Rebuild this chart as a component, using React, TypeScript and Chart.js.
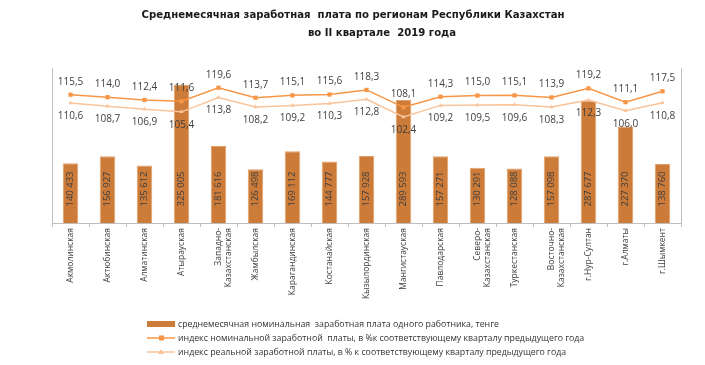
import React, { useEffect, useRef } from "react";
import { Chart, registerables } from "chart.js";

Chart.register(...registerables);

const categories: (string | string[])[] = [
  "Акмолинская",
  "Актюбинская",
  "Алматинская",
  "Атырауская",
  ["Западно-", "Казахстанская"],
  "Жамбылская",
  "Карагандинская",
  "Костанайская",
  "Кызылординская",
  "Мангистауская",
  "Павлодарская",
  ["Северо-", "Казахстанская"],
  "Туркестанская",
  ["Восточно-", "Казахстанская"],
  "г.Нур-Султан",
  "г.Алматы",
  "г.Шымкент",
];

const wages = [140433, 156927, 135612, 325005, 181616, 126498, 169112, 144777, 157928, 289593, 157271, 130291, 128088, 157098, 287677, 227370, 138760];
const nominalIndex = [115.5, 114.0, 112.4, 111.6, 119.6, 113.7, 115.1, 115.6, 118.3, 108.1, 114.3, 115.0, 115.1, 113.9, 119.2, 111.1, 117.5];
const realIndex = [110.6, 108.7, 106.9, 105.4, 113.8, 108.2, 109.2, 110.3, 112.8, 102.4, 109.2, 109.5, 109.6, 108.3, 112.3, 106.0, 110.8];

const titleLines = [
  "Среднемесячная заработная  плата по регионам Республики Казахстан",
  "во II квартале  2019 года",
];
const legendLabels = [
  "среднемесячная номинальная  заработная плата одного работника, тенге",
  "индекс номинальной заработной  платы, в %к соответствующему кварталу предыдущего года",
  "индекс реальной заработной платы, в % к соответствующему кварталу предыдущего года",
];

const BAR_COLOR = "#CC7B38";
const NOM_COLOR = "#F79646";
const REAL_COLOR = "#FAC49A";
const TEXT = "#404040";
const FAMILY = "'Open Sans', 'Noto Sans', sans-serif";
const TITLE_FAMILY = "'Liberation Sans Narrow', 'DejaVu Sans Condensed', 'Open Sans', sans-serif";

const fmtWage = (v: number) => String(v).replace(/\B(?=(\d{3})+(?!\d))/g, " ");
const fmtIdx = (v: number) => v.toFixed(1).replace(".", ",");

function fitSize(ctx: CanvasRenderingContext2D, text: string, weight: string, family: string, target: number) {
  ctx.font = `${weight} 10px ${family}`;
  const w = ctx.measureText(text).width;
  return (10 * target) / w;
}

const labelsPlugin = {
  id: "customLabels",
  afterDatasetsDraw(chart: any) {
    const ctx = chart.ctx as CanvasRenderingContext2D;
    ctx.save();
    ctx.fillStyle = TEXT;
    const barMeta = chart.getDatasetMeta(0);
    ctx.font = `9.5px ${FAMILY}`;
    ctx.textAlign = "center";
    ctx.textBaseline = "middle";
    barMeta.data.forEach((el: any, i: number) => {
      ctx.save();
      ctx.translate(el.x, 189);
      ctx.rotate(-Math.PI / 2);
      ctx.fillText(fmtWage(wages[i]), 0, 0);
      ctx.restore();
    });
    ctx.font = `10px ${FAMILY}`;
    const nomMeta = chart.getDatasetMeta(1);
    nomMeta.data.forEach((el: any, i: number) => {
      ctx.fillText(fmtIdx(nominalIndex[i]), el.x, el.y - 13);
    });
    const realMeta = chart.getDatasetMeta(2);
    realMeta.data.forEach((el: any, i: number) => {
      ctx.fillText(fmtIdx(realIndex[i]), el.x, el.y + 13);
    });
    ctx.restore();
  },
  afterDraw(chart: any) {
    const ctx = chart.ctx as CanvasRenderingContext2D;
    const area = chart.chartArea;
    ctx.save();
    ctx.strokeStyle = "#bfbfbf";
    ctx.lineWidth = 1;
    ctx.beginPath();
    ctx.moveTo(Math.round(area.left) + 0.5, area.top);
    ctx.lineTo(Math.round(area.left) + 0.5, area.bottom);
    ctx.moveTo(Math.round(area.right) + 0.5, area.top);
    ctx.lineTo(Math.round(area.right) + 0.5, area.bottom);
    ctx.stroke();

    // title
    ctx.fillStyle = "#1a1a1a";
    ctx.textAlign = "center";
    ctx.textBaseline = "middle";
    const ts = Math.min(15.5, fitSize(ctx, titleLines[0], "bold", TITLE_FAMILY, 423));
    ctx.font = `bold ${ts}px ${TITLE_FAMILY}`;
    ctx.fillText(titleLines[0], 353, 15);
    ctx.fillText(titleLines[1], 382, 33);

    // legend
    const ls = fitSize(ctx, legendLabels[1], "normal", FAMILY, 407);
    ctx.font = `${ls}px ${FAMILY}`;
    ctx.textAlign = "left";
    const rows = [324, 338, 352];
    ctx.fillStyle = BAR_COLOR;
    ctx.fillRect(147, rows[0] - 3, 28, 6);
    ctx.strokeStyle = NOM_COLOR;
    ctx.lineWidth = 1.5;
    ctx.beginPath();
    ctx.moveTo(147, rows[1]);
    ctx.lineTo(175, rows[1]);
    ctx.stroke();
    ctx.fillStyle = NOM_COLOR;
    ctx.fillRect(159, rows[1] - 2.5, 5, 5);
    ctx.strokeStyle = REAL_COLOR;
    ctx.beginPath();
    ctx.moveTo(147, rows[2]);
    ctx.lineTo(175, rows[2]);
    ctx.stroke();
    ctx.fillStyle = REAL_COLOR;
    ctx.beginPath();
    ctx.moveTo(161, rows[2] - 3);
    ctx.lineTo(164, rows[2] + 2);
    ctx.lineTo(158, rows[2] + 2);
    ctx.closePath();
    ctx.fill();
    ctx.fillStyle = "#333333";
    legendLabels.forEach((t, i) => ctx.fillText(t, 178, rows[i]));
    ctx.restore();
  },
};

export default function App() {
  const ref = useRef<HTMLCanvasElement | null>(null);
  useEffect(() => {
    document.body.style.margin = "0";
    if (!ref.current) return;
    const chart = new Chart(ref.current, {
      type: "bar",
      data: {
        labels: categories as any,
        datasets: [
          {
            type: "bar",
            label: legendLabels[0],
            data: wages,
            yAxisID: "y",
            backgroundColor: BAR_COLOR,
            borderColor: "#E3A06A",
            borderWidth: 1,
            barPercentage: 1,
            categoryPercentage: 0.42,
            order: 2,
          },
          {
            type: "line",
            label: legendLabels[1],
            data: nominalIndex,
            yAxisID: "y1",
            borderColor: NOM_COLOR,
            backgroundColor: NOM_COLOR,
            borderWidth: 1.5,
            pointStyle: "rect",
            pointRadius: 3,
            pointBorderWidth: 0,
            tension: 0,
            order: 0,
          },
          {
            type: "line",
            label: legendLabels[2],
            data: realIndex,
            yAxisID: "y1",
            borderColor: REAL_COLOR,
            backgroundColor: REAL_COLOR,
            borderWidth: 1.5,
            pointStyle: "triangle",
            pointRadius: 2.5,
            pointBorderWidth: 0,
            tension: 0,
            order: 1,
          },
        ] as any,
      },
      options: {
        responsive: false,
        animation: false,
        layout: { padding: { top: 68, left: 52, right: 24, bottom: 0 } },
        plugins: {
          legend: { display: false },
          tooltip: { enabled: false },
          title: { display: false },
        },
        scales: {
          x: {
            grid: {
              offset: true,
              drawOnChartArea: false,
              tickLength: 4,
              color: "#bfbfbf",
            },
            border: { color: "#bfbfbf" },
            ticks: {
              minRotation: 90,
              maxRotation: 90,
              autoSkip: false,
              color: TEXT,
              padding: 1,
              font: { family: FAMILY, size: 8.5 },
            },
            afterFit: (s: any) => {
              s.height = 142;
            },
          },
          y: { display: false, min: 0, max: 365000 },
          y1: { display: false, min: 40, max: 131.2 },
        },
      } as any,
      plugins: [labelsPlugin],
    });
    return () => chart.destroy();
  }, []);
  return (
    <div style={{ width: 705, height: 365, background: "#fff" }}>
      <canvas ref={ref} width={705} height={365} />
    </div>
  );
}
